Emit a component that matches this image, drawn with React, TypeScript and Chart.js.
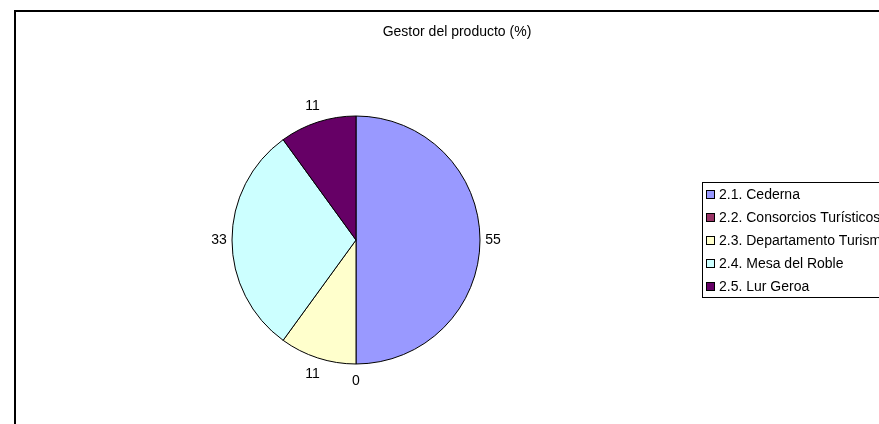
import React, { useEffect, useRef } from "react";
import { Chart, registerables } from "chart.js";

Chart.register(...registerables);

const TITLE = "Gestor del producto (%)";
const categories = [
  "2.1. Cederna",
  "2.2. Consorcios Turísticos",
  "2.3. Departamento Turismo",
  "2.4. Mesa del Roble",
  "2.5. Lur Geroa",
];
const values = [55, 0, 11, 33, 11];
const colors = ["#9999FF", "#993366", "#FFFFCC", "#CCFFFF", "#660066"];

const FONT = "14px 'Liberation Sans', Arial, sans-serif";

const overlayPlugin = {
  id: "overlay",
  beforeDraw(chart: any) {
    const ctx = chart.ctx;
    ctx.save();
    ctx.fillStyle = "#fff";
    ctx.fillRect(0, 0, chart.width, chart.height);
    // outer frame
    ctx.strokeStyle = "#000";
    ctx.lineWidth = 2;
    ctx.strokeRect(15, 11, 1000, 1000);
    // title
    ctx.fillStyle = "#000";
    ctx.font = FONT;
    ctx.textAlign = "center";
    ctx.textBaseline = "middle";
    ctx.fillText(TITLE, 457, 32);
    ctx.restore();
  },
  afterDatasetsDraw(chart: any) {
    const ctx = chart.ctx;
    const meta = chart.getDatasetMeta(0);
    const data = chart.data.datasets[0].data as number[];
    ctx.save();
    ctx.fillStyle = "#000";
    ctx.font = FONT;
    ctx.textAlign = "center";
    ctx.textBaseline = "middle";
    meta.data.forEach((arc: any, i: number) => {
      const { x, y, startAngle, endAngle, outerRadius } = arc.getProps(
        ["x", "y", "startAngle", "endAngle", "outerRadius"],
        true
      );
      const mid = (startAngle + endAngle) / 2;
      const d = outerRadius + 13 + 4 * Math.abs(Math.sin(mid));
      ctx.fillText(String(data[i]), x + Math.cos(mid) * d, y + Math.sin(mid) * d);
    });
    // legend
    const lx = 702.5;
    const ly = 182.5;
    ctx.strokeStyle = "#000";
    ctx.lineWidth = 1;
    ctx.strokeRect(lx, ly, 400, 115);
    ctx.textAlign = "left";
    const labels = chart.data.labels as string[];
    const bg = chart.data.datasets[0].backgroundColor as string[];
    labels.forEach((lab, i) => {
      const cy = 194 + i * 23;
      ctx.fillStyle = bg[i];
      ctx.fillRect(707, cy - 3, 7, 7);
      ctx.strokeStyle = "#000";
      ctx.strokeRect(706.5, cy - 3.5, 8, 8);
      ctx.fillStyle = "#000";
      ctx.fillText(lab, 719, cy + 1);
    });
    ctx.restore();
  },
};

export default function App() {
  const ref = useRef<HTMLCanvasElement>(null);
  useEffect(() => {
    if (!ref.current) return;
    const chart = new Chart(ref.current, {
      type: "pie",
      data: {
        labels: categories,
        datasets: [
          {
            data: values,
            backgroundColor: colors,
            borderColor: "#000",
            borderWidth: 1,
            radius: 124,
          } as any,
        ],
      },
      options: {
        animation: false,
        responsive: false,
        layout: { padding: { left: 232, right: 399, top: 116, bottom: 60 } },
        plugins: {
          legend: { display: false },
          title: { display: false },
          tooltip: { enabled: false },
        },
      },
      plugins: [overlayPlugin],
    });
    return () => chart.destroy();
  }, []);
  return (
    <div style={{ position: "fixed", left: 0, top: 0, width: 879, height: 424 }}>
      <canvas ref={ref} width={879} height={424} style={{ width: 879, height: 424 }} />
    </div>
  );
}
